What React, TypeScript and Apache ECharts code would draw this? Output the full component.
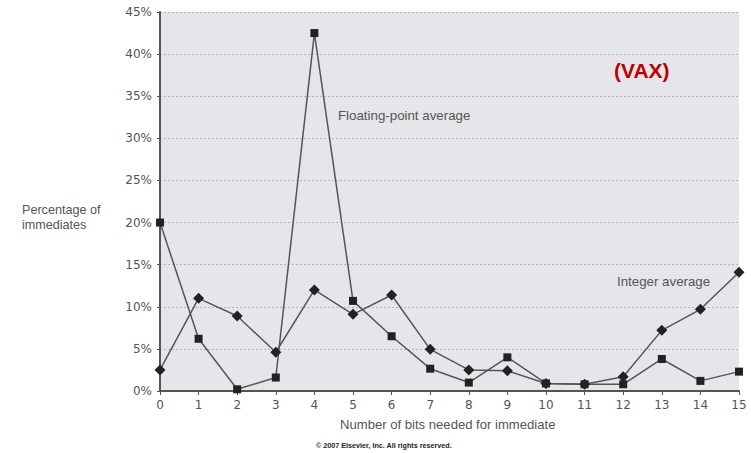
import React, { useEffect, useRef } from "react";
import * as echarts from "echarts";

const bits = ["0", "1", "2", "3", "4", "5", "6", "7", "8", "9", "10", "11", "12", "13", "14", "15"];
const floatingPoint = [20.0, 6.2, 0.2, 1.6, 42.5, 10.7, 6.5, 2.65, 1.0, 4.0, 0.9, 0.8, 0.8, 3.8, 1.2, 2.3];
const integerAvg = [2.5, 11.0, 8.9, 4.6, 12.0, 9.1, 11.4, 4.95, 2.5, 2.4, 0.9, 0.8, 1.7, 7.2, 9.7, 14.1];
const yTicks = [0, 5, 10, 15, 20, 25, 30, 35, 40, 45];

const labelFont = "DejaVu Sans, Verdana, sans-serif";
const textFont = "Arial, Liberation Sans, sans-serif";

export default function App() {
  const ref = useRef<HTMLDivElement>(null);
  useEffect(() => {
    const chart = echarts.init(ref.current!, null, { renderer: "svg" });
    chart.setOption({
      animation: false,
      backgroundColor: "#ffffff",
      grid: {
        left: 160,
        right: 12,
        top: 12,
        bottom: 62,
        show: true,
        backgroundColor: "#e5e6e9",
        borderWidth: 0,
      },
      xAxis: {
        type: "category",
        data: bits,
        boundaryGap: false,
        axisLine: { lineStyle: { color: "#555", width: 2 } },
        axisTick: { show: true, length: 4, lineStyle: { color: "#555" } },
        axisLabel: { color: "#555", fontSize: 12, fontFamily: labelFont, margin: 8 },
        splitLine: { show: false },
      },
      yAxis: {
        type: "value",
        min: yTicks[0],
        max: yTicks[yTicks.length - 1],
        interval: 5,
        axisLine: { show: true, lineStyle: { color: "#555", width: 2 } },
        axisTick: { show: true, length: 3, lineStyle: { color: "#555" } },
        axisLabel: {
          color: "#555",
          fontSize: 12,
          fontFamily: labelFont,
          margin: 8,
          formatter: (v: number) => v + "%",
        },
        splitLine: { show: true, lineStyle: { color: "#b4b4b4", type: [2, 2], width: 1 } },
      },
      series: [
        {
          name: "Floating-point average",
          type: "line",
          data: floatingPoint,
          symbol: "rect",
          symbolSize: 8,
          itemStyle: { color: "#222" },
          lineStyle: { color: "#555", width: 1.5 },
          z: 3,
        },
        {
          name: "Integer average",
          type: "line",
          data: integerAvg,
          symbol: "diamond",
          symbolSize: 11,
          itemStyle: { color: "#222" },
          lineStyle: { color: "#555", width: 1.5 },
          z: 3,
        },
      ],
      graphic: [
        {
          type: "text",
          left: 338,
          top: 109,
          style: { text: "Floating-point average", fill: "#555", fontSize: 13.3, fontFamily: textFont },
        },
        {
          type: "text",
          left: 617,
          top: 275,
          style: { text: "Integer average", fill: "#555", fontSize: 13.3, fontFamily: textFont },
        },
        {
          type: "text",
          left: 614,
          top: 60,
          style: { text: "(VAX)", fill: "#c00000", fontSize: 21, fontWeight: "bold", fontFamily: textFont },
        },
        {
          type: "text",
          left: 22,
          top: 202,
          style: {
            text: "Percentage of\nimmediates",
            fill: "#555",
            fontSize: 12.6,
            lineHeight: 15,
            fontFamily: textFont,
          },
        },
        {
          type: "text",
          left: 340,
          top: 418,
          style: {
            text: "Number of bits needed for immediate",
            fill: "#555",
            fontSize: 13.1,
            fontFamily: textFont,
          },
        },
        {
          type: "text",
          left: 316,
          top: 442,
          style: {
            text: "© 2007 Elsevier, Inc. All rights reserved.",
            fill: "#222",
            fontSize: 7.2,
            fontWeight: "bold",
            fontFamily: textFont,
          },
        },
      ],
    });
    return () => chart.dispose();
  }, []);
  return <div ref={ref} style={{ width: 751, height: 453, position: "fixed", left: 0, top: 0 }} />;
}
